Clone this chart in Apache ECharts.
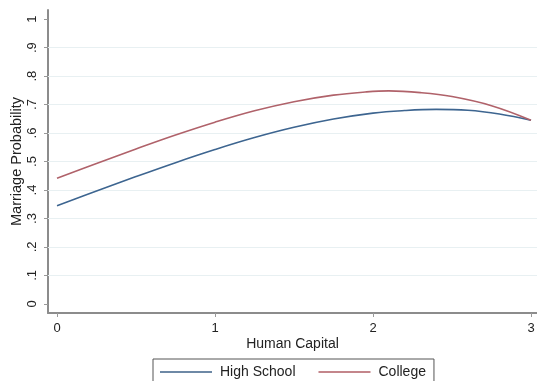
<!DOCTYPE html>
<html><head><meta charset="utf-8">
<script src="https://cdn.jsdelivr.net/npm/echarts@6/dist/echarts.min.js"></script>
<style>html,body{margin:0;padding:0;background:#fff}#c{width:537px;height:381px}</style>
</head><body><div id="c"></div>
<script>
const xHigh = [0, 0.25, 0.5, 0.75, 1, 1.25, 1.5, 1.75, 2, 2.2, 2.4, 2.6, 2.8, 3];
const highSchool = [0.345, 0.396, 0.447, 0.496, 0.542, 0.584, 0.620, 0.649, 0.670, 0.679, 0.683, 0.680, 0.667, 0.645];
const xCollege = [0, 0.25, 0.5, 0.75, 1, 1.25, 1.5, 1.75, 1.95, 2.1, 2.3, 2.5, 2.75, 3];
const college = [0.4415, 0.493, 0.544, 0.593, 0.638, 0.678, 0.710, 0.733, 0.744, 0.748, 0.742, 0.728, 0.696, 0.645];
const yTicks = [0, 0.1, 0.2, 0.3, 0.4, 0.5, 0.6, 0.7, 0.8, 0.9, 1];
const yTickLabels = ['0', '.1', '.2', '.3', '.4', '.5', '.6', '.7', '.8', '.9', '1'];
const yGrid = [0.1, 0.2, 0.3, 0.4, 0.5, 0.6, 0.7, 0.8, 0.9];
const xTicks = [0, 1, 2, 3];
const xTickLabels = ['0', '1', '2', '3'];

const font = 'Liberation Sans, Arial, sans-serif';
const axisColor = '#8c8c8c';
const blue = '#3d6590', red = '#b0626a';
const chart = echarts.init(document.getElementById('c'));
chart.setOption({
  animation: false,
  backgroundColor: '#fff',
  grid: {left: 48, right: 0, top: 10, bottom: 68, containLabel: false, outerBoundsMode: 'none'},
  legend: {
    left: 153, top: 359,
    padding: [6, 8, 8, 7],
    borderColor: '#555', borderWidth: 1,
    itemWidth: 52, itemHeight: 2, itemGap: 23,
    icon: 'rect',
    textStyle: {fontFamily: font, fontSize: 14, color: '#222', padding: [0, 0, 0, 3]},
    data: [
      {name: 'High School', itemStyle: {color: '#6e89a6'}},
      {name: 'College', itemStyle: {color: '#c4868b'}}
    ]
  },
  xAxis: {
    type: 'value', min: -0.057, max: 3.038,
    name: 'Human Capital', nameLocation: 'middle', nameGap: 24, nameMoveOverlap: false,
    nameTextStyle: {fontFamily: font, fontSize: 14, color: '#222'},
    axisLine: {show: true, onZero: false, lineStyle: {color: axisColor, width: 2}},
    axisTick: {show: true, length: 4, customValues: xTicks, lineStyle: {color: '#999'}},
    axisLabel: {customValues: xTicks, margin: 9, fontFamily: font, fontSize: 13, color: '#222',
      formatter: v => xTickLabels[xTicks.indexOf(v)]},
    splitLine: {show: false}
  },
  yAxis: {
    type: 'value', min: -0.032, max: 1.032,
    name: 'Marriage Probability', nameLocation: 'middle', nameGap: 31, nameRotate: 90, nameMoveOverlap: false,
    nameTextStyle: {fontFamily: font, fontSize: 14.5, color: '#222', verticalAlign: 'middle'},
    axisLine: {show: true, onZero: false, lineStyle: {color: axisColor, width: 2}},
    axisTick: {show: true, length: 4, customValues: yTicks, lineStyle: {color: '#999'}},
    axisLabel: {customValues: yTicks, margin: 9, rotate: 90, fontFamily: font, fontSize: 13, color: '#222',
      formatter: v => yTickLabels[yTicks.findIndex(t => Math.abs(t - v) < 1e-6)]},
    splitLine: {show: false}
  },
  series: [
    {
      name: 'grid', type: 'line', data: [], z: 1, silent: true,
      markLine: {
        silent: true, symbol: 'none', label: {show: false}, z: 1,
        lineStyle: {color: '#e8f0f2', width: 1.2, type: 'solid'},
        data: yGrid.map(v => ({yAxis: v}))
      }
    },
    {
      name: 'High School', type: 'line', smooth: 0.4, showSymbol: false,
      data: xHigh.map((x, i) => [x, highSchool[i]]),
      lineStyle: {color: blue, width: 1.6}, itemStyle: {color: blue},
      z: 3
    },
    {
      name: 'College', type: 'line', smooth: 0.4, showSymbol: false,
      data: xCollege.map((x, i) => [x, college[i]]),
      lineStyle: {color: red, width: 1.6}, itemStyle: {color: red},
      z: 3
    }
  ]
});
</script></body></html>
